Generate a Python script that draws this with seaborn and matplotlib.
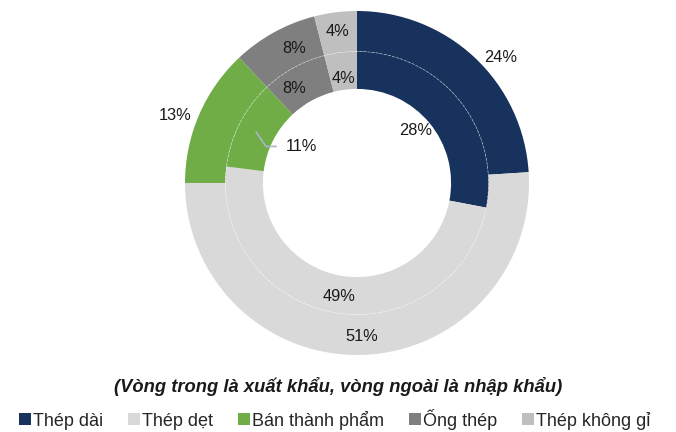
import numpy as np
import matplotlib
matplotlib.use("Agg")
import matplotlib.pyplot as plt
import seaborn as sns
from matplotlib.patches import Patch, Circle

categories = ["Thép dài", "Thép dẹt", "Bán thành phẩm", "Ống thép", "Thép không gỉ"]
import_share = [24, 51, 13, 8, 4]  # outer ring (nhập khẩu)
export_share = [28, 49, 11, 8, 4]  # inner ring (xuất khẩu)
colours = ["#17325C", "#D9D9D9", "#70AD47", "#7F7F7F", "#BFBFBF"]

TITLE = "(Vòng trong là xuất khẩu, vòng ngoài là nhập khẩu)"

OUTER_R = 1.0
MID_R = 0.765
HOLE_R = 0.547

# label placement per slice (distance from centre, angle nudge in degrees),
# matching where the labels sat in the original
outer_label_r = [1.11, 0.895, 1.13, 0.86, 0.89]
outer_label_nudge = [-5.6, 0, 3.0, -3.8, 0]
inner_label_r = [0.46, 0.67, None, 0.66, 0.61]
inner_label_nudge = [2.3, 0, 0, 5.0, 0]

TEXT = "#1a1a1a"
LABEL_SIZE = 11.8

sns.set_theme(style="white")
plt.rcParams["font.family"] = ["Liberation Sans", "DejaVu Sans"]

fig = plt.figure(figsize=(6.76, 4.32), dpi=100)
ax = fig.add_axes([185 / 676, 77 / 432, 344 / 676, 344 / 432])

outer, _ = ax.pie(
    import_share,
    colors=colours,
    radius=OUTER_R,
    startangle=90,
    counterclock=False,
    wedgeprops=dict(width=OUTER_R - MID_R, linewidth=0),
)
inner, _ = ax.pie(
    export_share,
    colors=colours,
    radius=MID_R,
    startangle=90,
    counterclock=False,
    wedgeprops=dict(width=MID_R - HOLE_R, linewidth=0),
)
ax.add_patch(
    Circle((0, 0), MID_R, fill=False, edgecolor="white", linewidth=0.5,
           linestyle=(0, (4, 2)), alpha=0.55)
)


def _mid(wedge, nudge=0.0):
    return np.deg2rad((wedge.theta1 + wedge.theta2) / 2 + nudge)


for w, v, r, n in zip(outer, import_share, outer_label_r, outer_label_nudge):
    a = _mid(w, n)
    ax.text(r * np.cos(a), r * np.sin(a), f"{v}%", ha="center", va="center",
            fontsize=LABEL_SIZE, color=TEXT)

for w, v, r, n in zip(inner, export_share, inner_label_r, inner_label_nudge):
    if r is None:
        # small slice: label pulled into the hole with a leader line
        a = _mid(w)
        start = np.array([0.66 * np.cos(a), 0.66 * np.sin(a)])
        elbow = start + np.array([0.058, -0.087])
        end = elbow + np.array([0.064, 0.0])
        ax.plot([start[0], elbow[0], end[0]], [start[1], elbow[1], end[1]],
                color="#A9B6C8", linewidth=1.2, solid_capstyle="butt")
        ax.text(end[0] + 0.05, end[1], f"{v}%", ha="left", va="center",
                fontsize=LABEL_SIZE, color=TEXT)
        continue
    a = _mid(w, n)
    ax.text(r * np.cos(a), r * np.sin(a), f"{v}%", ha="center", va="center",
            fontsize=LABEL_SIZE, color=TEXT)

ax.set_xlim(-1, 1)
ax.set_ylim(-1, 1)
ax.set_aspect("equal")
ax.axis("off")

fig.text(0.5, 1 - 386 / 432, TITLE, ha="center", va="center",
         fontsize=13.2, fontweight="bold", fontstyle="italic", color=TEXT)

handles = [Patch(facecolor=c, edgecolor="none", label=l)
           for c, l in zip(colours, categories)]
fig.legend(
    handles=handles,
    loc="center left",
    bbox_to_anchor=(19 / 676, 1 - 419 / 432),
    ncol=5,
    frameon=False,
    fontsize=13,
    handlelength=0.67,
    handleheight=0.67,
    handletextpad=0.12,
    columnspacing=1.36,
    borderaxespad=0,
    borderpad=0,
)

fig.savefig("out.png", dpi=100, facecolor="white")
